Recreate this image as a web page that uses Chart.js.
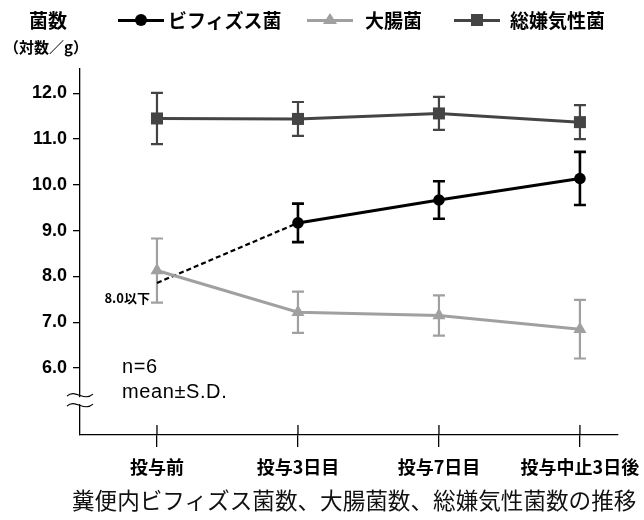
<!DOCTYPE html>
<html>
<head>
<meta charset="utf-8">
<script src="https://cdn.jsdelivr.net/npm/chart.js@4.4.0/dist/chart.umd.min.js"></script>
<style>
  body { margin: 0; background: #fff; }
  #wrap { position: relative; width: 644px; height: 520px; overflow: hidden; font-family: 'Noto Sans CJK JP', sans-serif; }
  #chart { position: absolute; left: 0; top: 0; }
  .t { position: absolute; white-space: nowrap; color: #000; }
  .sym { position: absolute; width: 46px; height: 20px; }
  .sym .ln { position: absolute; left: 0; right: 0; top: 9px; height: 3px; }
  .sym .mk { position: absolute; }
</style>
</head>
<body>
<div id="wrap">
  <canvas id="chart" width="644" height="520"></canvas>

  <!-- y axis title -->
  <div class="t" style="left:29px;top:9px;font-size:19px;font-weight:bold;line-height:22px;">菌数</div>
  <div class="t" style="left:4px;top:37px;font-size:15px;font-weight:bold;line-height:20px;">（対数／g）</div>

  <!-- legend -->
  <div class="sym" style="left:118px;top:10px;"><div class="ln" style="background:#000"></div>
    <div class="mk" style="left:17px;top:4px;width:12px;height:12px;border-radius:50%;background:#000"></div></div>
  <div class="t" style="left:168px;top:9px;font-size:19px;font-weight:bold;line-height:22px;">ビフィズス菌</div>

  <div class="sym" style="left:307px;top:10px;"><div class="ln" style="background:#a0a0a0;height:2.5px"></div>
    <div class="mk" style="left:16px;top:3px;width:0;height:0;border-left:7px solid transparent;border-right:7px solid transparent;border-bottom:11px solid #a0a0a0"></div></div>
  <div class="t" style="left:365px;top:9px;font-size:19px;font-weight:bold;line-height:22px;">大腸菌</div>

  <div class="sym" style="left:454px;top:10px;"><div class="ln" style="background:#444"></div>
    <div class="mk" style="left:17px;top:4px;width:12px;height:12px;background:#444"></div></div>
  <div class="t" style="left:510px;top:9px;font-size:19px;font-weight:bold;line-height:22px;">総嫌気性菌</div>

  <!-- annotations -->
  <div class="t" style="right:494px;top:289px;font-size:13px;font-weight:bold;line-height:18px;">8.0以下</div>
  <div class="t" style="left:122px;top:354px;font-size:20px;line-height:25px;letter-spacing:0.6px;font-family:'Liberation Sans',Arial,sans-serif;">n=6<br>mean±S.D.</div>

  <!-- caption -->
  <div class="t" style="left:72px;top:486px;font-size:22.6px;line-height:28px;color:#111;">糞便内ビフィズス菌数、大腸菌数、総嫌気性菌数の推移</div>
</div>

<script>
// categories and tick values
const categories = ['投与前', '投与3日目', '投与7日目', '投与中止3日後'];
const xTicks = [0, 1, 2, 3];
const yTicks = [6, 7, 8, 9, 10, 11, 12];

// means (log count / g) and SD
const bifidus = [7.86, 9.17, 9.67, 10.14];
const bifidusSD = [null, 0.42, 0.41, 0.58];
const ecoli = [8.13, 7.22, 7.15, 6.85];
const ecoliSD = [0.70, 0.45, 0.44, 0.64];
const anaerobes = [11.45, 11.44, 11.56, 11.37];
const anaerobesSD = [0.56, 0.37, 0.36, 0.37];

const colors = { black: '#000000', gray: '#a0a0a0', dark: '#444444' };

function toPoints(arr) {
  return arr.map((v, i) => ({ x: xTicks[i], y: v }));
}

// error bars, drawn under the lines
const errorBars = {
  id: 'errorBars',
  beforeDatasetsDraw(chart) {
    const { ctx, scales: { x, y } } = chart;
    ctx.save();
    chart.data.datasets.forEach((ds) => {
      if (!ds.sd) return;
      ctx.strokeStyle = ds.borderColor;
      ctx.lineWidth = ds.errWidth;
      ds.data.forEach((p, i) => {
        const sd = ds.sd[i];
        if (sd == null) return;
        const px = x.getPixelForValue(p.x);
        const top = y.getPixelForValue(p.y + sd);
        const bot = y.getPixelForValue(p.y - sd);
        ctx.beginPath();
        ctx.moveTo(px, top); ctx.lineTo(px, bot);
        ctx.moveTo(px - 6, top); ctx.lineTo(px + 6, top);
        ctx.moveTo(px - 6, bot); ctx.lineTo(px + 6, bot);
        ctx.stroke();
      });
    });
    ctx.restore();
  },
};

// inner x tick marks and the y axis break
const axisExtras = {
  id: 'axisExtras',
  afterDraw(chart) {
    const { ctx, scales: { x, y } } = chart;
    ctx.save();
    ctx.strokeStyle = '#000';
    ctx.lineWidth = 1.3;
    xTicks.forEach((v) => {
      const px = x.getPixelForValue(v);
      ctx.beginPath();
      ctx.moveTo(px, y.bottom);
      ctx.lineTo(px, y.bottom - 10);
      ctx.stroke();
    });
    const bx = x.left;
    const by = y.getPixelForValue(5.3);
    ctx.fillStyle = '#fff';
    ctx.fillRect(bx - 3, by - 3, 6, 7);
    ctx.lineWidth = 1.1;
    [by - 5, by + 5].forEach((yy) => {
      ctx.beginPath();
      ctx.moveTo(bx - 13, yy + 1);
      ctx.bezierCurveTo(bx - 5, yy - 7, bx + 4, yy + 7, bx + 13, yy - 1);
      ctx.stroke();
    });
    ctx.restore();
  },
};

const ctx = document.getElementById('chart');

new Chart(ctx, {
  type: 'line',
  data: {
    datasets: [
      {
        label: '大腸菌',
        data: toPoints(ecoli),
        sd: ecoliSD,
        errWidth: 2.2,
        borderColor: colors.gray,
        backgroundColor: colors.gray,
        borderWidth: 3,
        pointStyle: 'triangle',
        pointRadius: 7.5,
        pointBorderWidth: 0,
        order: 0,
      },
      {
        label: 'ビフィズス菌',
        data: toPoints(bifidus),
        sd: bifidusSD,
        errWidth: 2.6,
        borderColor: colors.black,
        backgroundColor: colors.black,
        borderWidth: 3,
        pointStyle: 'circle',
        pointRadius: [0, 5.8, 5.8, 5.8],
        pointBorderWidth: 0,
        segment: {
          borderDash: (c) => (c.p0DataIndex === 0 ? [5, 3] : undefined),
          borderWidth: (c) => (c.p0DataIndex === 0 ? 2.2 : undefined),
        },
        order: 1,
      },
      {
        label: '総嫌気性菌',
        data: toPoints(anaerobes),
        sd: anaerobesSD,
        errWidth: 2.2,
        borderColor: colors.dark,
        backgroundColor: colors.dark,
        borderWidth: 3,
        pointStyle: 'rect',
        pointRadius: 8.5,
        pointBorderWidth: 0,
        order: 2,
      },
    ],
  },
  options: {
    responsive: false,
    animation: false,
    layout: { padding: { top: 69, right: 26, left: 0, bottom: 0 } },
    plugins: {
      legend: { display: false },
      tooltip: { enabled: false },
    },
    scales: {
      x: {
        type: 'linear',
        min: -0.546,
        max: 3.27,
        afterBuildTicks: (s) => { s.ticks = xTicks.map((v) => ({ value: v })); },
        afterFit: (s) => { s.height = 85; s.paddingLeft = 0; s.paddingRight = 0; },
        border: { color: '#000', width: 1.3 },
        grid: { drawOnChartArea: false, color: '#000', lineWidth: 1.3, tickLength: 12 },
        ticks: {
          callback: (v) => categories[v],
          color: '#000',
          padding: 9,
          maxRotation: 0,
          autoSkip: false,
          font: { family: "'Noto Sans CJK JP', sans-serif", size: 18, weight: 'bold' },
        },
      },
      y: {
        min: 4.54,
        max: 12.53,
        afterBuildTicks: (s) => { s.ticks = yTicks.map((v) => ({ value: v })); },
        afterFit: (s) => { s.width = 80; s.paddingTop = 0; s.paddingBottom = 0; },
        border: { color: '#000', width: 1.3 },
        grid: { drawOnChartArea: false, color: '#000', lineWidth: 1.3, tickLength: 7 },
        ticks: {
          callback: (v) => v.toFixed(1),
          color: '#000',
          padding: 6,
          font: { family: "'Liberation Sans', Arial, sans-serif", size: 18, weight: 'bold' },
        },
      },
    },
  },
  plugins: [errorBars, axisExtras],
});
</script>
</body>
</html>
